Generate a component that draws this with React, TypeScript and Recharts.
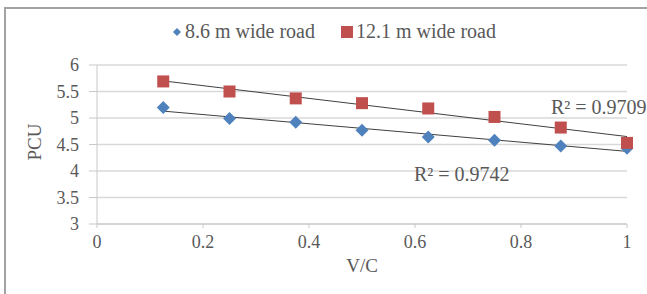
import React from "react";
import { ScatterChart, Scatter, XAxis, YAxis, CartesianGrid } from "recharts";

const vcValues = [0.125, 0.25, 0.375, 0.5, 0.625, 0.75, 0.875, 1];
const pcu86 = [5.2, 4.99, 4.92, 4.77, 4.64, 4.58, 4.47, 4.43];
const pcu121 = [5.69, 5.5, 5.37, 5.28, 5.18, 5.02, 4.82, 4.53];

// trendline end points
const trendX = [0.125, 1];
const trend86 = [5.13, 4.37];
const trend121 = [5.7, 4.65];

const xTicks = [0, 0.2, 0.4, 0.6, 0.8, 1];
const yTicks = [3, 3.5, 4, 4.5, 5, 5.5, 6];

const seriesNames = ["8.6 m wide road", "12.1 m wide road"];
const r2Labels = ["R² = 0.9742", "R² = 0.9709"];

const BLUE = "#4f81bd";
const RED = "#c0504d";
const TEXT = "#595959";
const FONT = "'Liberation Serif', 'Times New Roman', serif";

const toPoints = (xs: number[], ys: number[]) =>
  xs.map((x, i) => ({ x, y: ys[i] }));

const Diamond = (props: any) => {
  const { cx, cy } = props;
  const r = 6.5;
  return (
    <polygon
      points={`${cx},${cy - r} ${cx + r},${cy} ${cx},${cy + r} ${cx - r},${cy}`}
      fill={BLUE}
    />
  );
};

const Square = (props: any) => {
  const { cx, cy } = props;
  const s = 12;
  return <rect x={cx - s / 2} y={cy - s / 2} width={s} height={s} fill={RED} />;
};

const NoDot = () => <g />;

const tickStyle = { fill: TEXT, fontSize: 18, fontFamily: FONT, style: { fontFamily: FONT } };

export default function App() {
  return (
    <div
      style={{
        position: "absolute",
        left: 0,
        top: 0,
        width: 647,
        height: 294,
        background: "#fff",
        overflow: "hidden",
        fontFamily: FONT,
      }}
    >
      <div
        style={{
          position: "absolute",
          left: 4,
          top: 7,
          width: 700,
          height: 400,
          border: "2px solid #a3a3a3",
        }}
      />
      <ScatterChart
        width={647}
        height={294}
        margin={{ top: 65, right: 20, bottom: 30, left: 0 }}
        style={{ position: "absolute", left: 0, top: 0 }}
      >
        <CartesianGrid vertical={false} stroke="#d9d9d9" strokeWidth={1.5} />
        <XAxis
          type="number"
          dataKey="x"
          domain={[0, 1]}
          ticks={xTicks}
          interval={0}
          height={40}
          tickSize={4}
          tickMargin={7}
          stroke="#c8c8c8"
          tick={tickStyle}
        />
        <YAxis
          type="number"
          dataKey="y"
          domain={[3, 6]}
          ticks={yTicks}
          interval={0}
          width={97}
          tickSize={8}
          tickMargin={10}
          stroke="#c8c8c8"
          tick={tickStyle}
        />
        <Scatter
          data={toPoints(trendX, trend86)}
          line={{ stroke: "#404040", strokeWidth: 1 }}
          shape={NoDot}
          isAnimationActive={false}
        />
        <Scatter
          data={toPoints(trendX, trend121)}
          line={{ stroke: "#404040", strokeWidth: 1 }}
          shape={NoDot}
          isAnimationActive={false}
        />
        <Scatter
          name={seriesNames[0]}
          data={toPoints(vcValues, pcu86)}
          shape={Diamond}
          isAnimationActive={false}
        />
        <Scatter
          name={seriesNames[1]}
          data={toPoints(vcValues, pcu121)}
          shape={Square}
          isAnimationActive={false}
        />
      </ScatterChart>

      {/* legend */}
      <div
        style={{
          position: "absolute",
          left: 172,
          top: 20,
          display: "flex",
          alignItems: "center",
          fontSize: 20,
          color: TEXT,
          whiteSpace: "nowrap",
        }}
      >
        <svg width={10} height={10} style={{ marginRight: 3 }}>
          <polygon points="5,1 9,5 5,9 1,5" fill={BLUE} />
        </svg>
        <span>{seriesNames[0]}</span>
        <svg width={14} height={14} style={{ marginLeft: 25, marginRight: 2 }}>
          <rect x={1} y={1} width={12} height={12} fill={RED} />
        </svg>
        <span>{seriesNames[1]}</span>
      </div>

      {/* R² labels */}
      <div
        style={{
          position: "absolute",
          left: 414,
          top: 163,
          fontSize: 20,
          color: TEXT,
          whiteSpace: "nowrap",
        }}
      >
        {r2Labels[0]}
      </div>
      <div
        style={{
          position: "absolute",
          left: 551,
          top: 96,
          fontSize: 20,
          color: TEXT,
          whiteSpace: "nowrap",
        }}
      >
        {r2Labels[1]}
      </div>

      {/* axis titles */}
      <div
        style={{
          position: "absolute",
          left: 362,
          top: 255,
          transform: "translateX(-50%)",
          fontSize: 19,
          color: TEXT,
        }}
      >
        V/C
      </div>
      <div
        style={{
          position: "absolute",
          left: 35,
          top: 142,
          transform: "translate(-50%, -50%) rotate(-90deg)",
          fontSize: 19,
          color: TEXT,
        }}
      >
        PCU
      </div>
    </div>
  );
}
